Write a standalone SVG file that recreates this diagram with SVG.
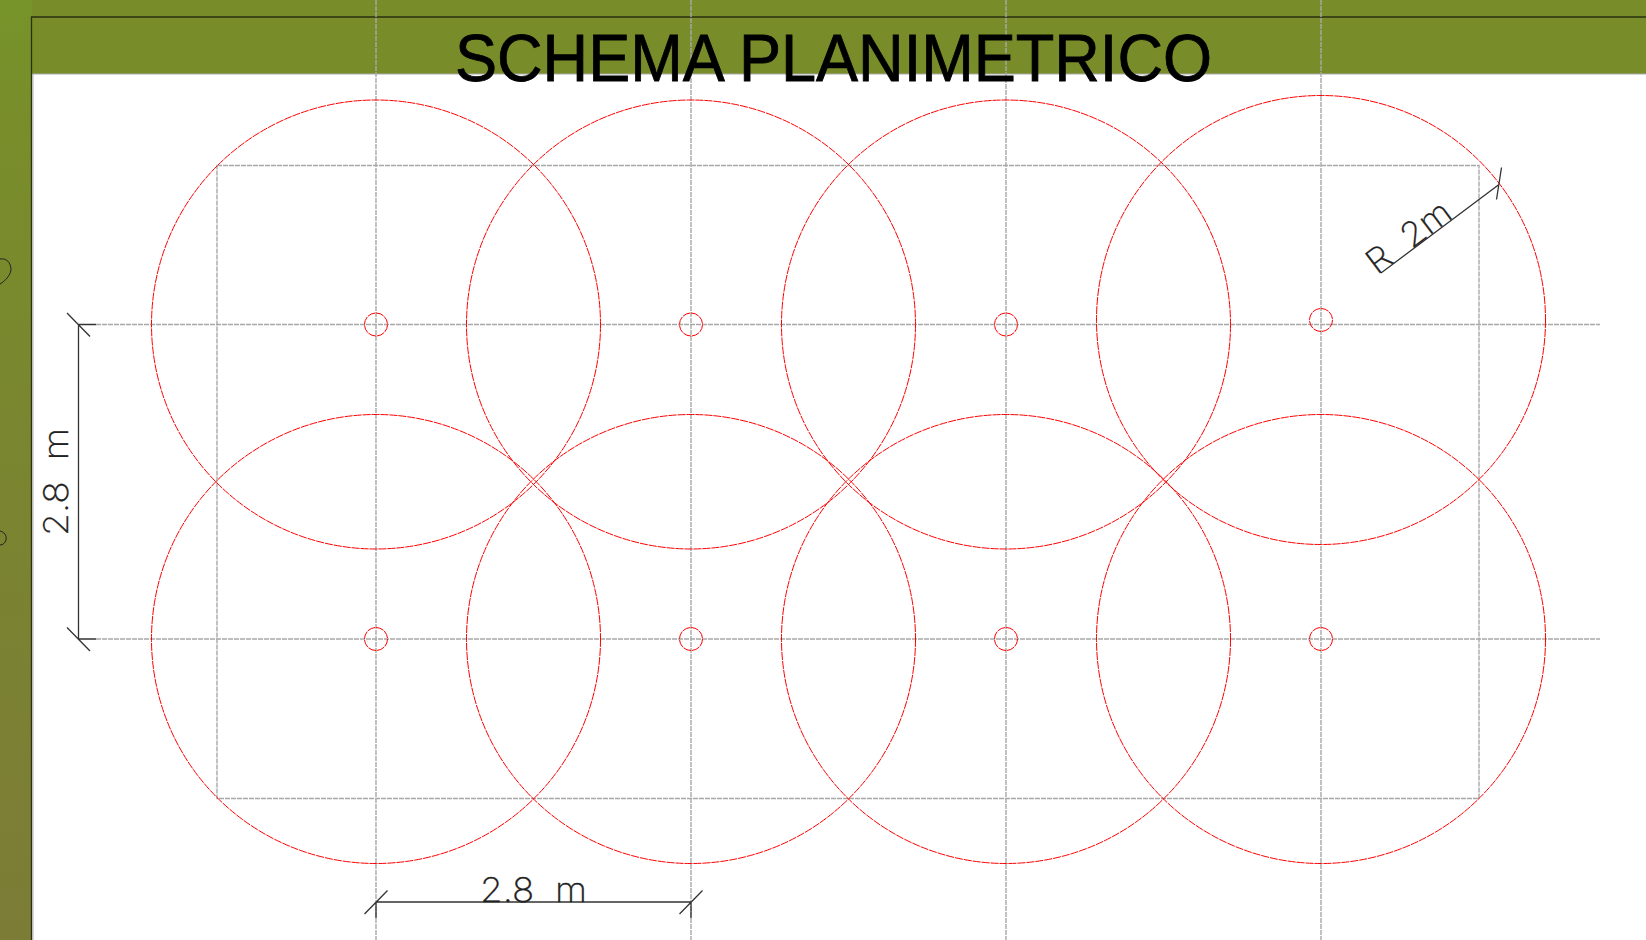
<svg xmlns="http://www.w3.org/2000/svg" width="1646" height="940" viewBox="0 0 1646 940">
<style>
.g{stroke:#a8a8a8;stroke-width:1.4;stroke-dasharray:5 1;fill:none}
.r{stroke:#f00;stroke-width:1;stroke-dasharray:8 1;fill:none}
.k{stroke:#333;stroke-width:1.3;fill:none}
.t{font-family:Inter,"Liberation Sans",sans-serif;font-weight:200;font-size:34px;fill:#222;stroke:#222;stroke-width:.3}
</style>
<defs>
<linearGradient id="bg" gradientUnits="userSpaceOnUse" x1="0" y1="0" x2="0" y2="940">
<stop offset="0" stop-color="#76942a"/><stop offset="0.1" stop-color="#788e2a"/><stop offset="0.5" stop-color="#7a8530"/><stop offset="1" stop-color="#7c7c36"/>
</linearGradient>
</defs>
<rect id="background" width="1646" height="940" fill="#788c2a"/>
<rect id="strip" width="32" height="940" fill="url(#bg)"/>
<rect id="sheet" x="32" y="74" width="1614" height="866" fill="#fff"/>
<path d="M33 74V940" stroke="#ccc" stroke-width="1.5"/>
<path d="M32 74H1646" stroke="#aaa" stroke-width="1"/>
<path id="frame" d="M31.500 940V17H1646" fill="none" stroke="#2a3010" stroke-width="1.3"/>
<path id="marks" d="M0 259C6 258 11 262 11 270C10 276 5 281 0 284M0 531C4 532 7 535 6 540C5 543 3 545 0 545" fill="none" stroke="#222" stroke-width="1"/>
<g id="grid" class="g">
<path d="M376 0V940M691 0V940M1006 0V940M1321 0V940M96 324.500H1600M96 639H1600"/>
<rect x="217" y="165.500" width="1262" height="633"/>
</g>
<g id="circles" class="r">
<circle cx="376" cy="324.500" r="224.500"/><circle cx="691" cy="324.500" r="224.500"/><circle cx="1006" cy="324.500" r="224.500"/><circle cx="1321" cy="320" r="224.500"/>
<circle cx="376" cy="639" r="224.500"/><circle cx="691" cy="639" r="224.500"/><circle cx="1006" cy="639" r="224.500"/><circle cx="1321" cy="639" r="224.500"/>
<circle cx="376" cy="324.500" r="11.500"/><circle cx="691" cy="324.500" r="11.500"/><circle cx="1006" cy="324.500" r="11.500"/><circle cx="1321" cy="320" r="11.500"/>
<circle cx="376" cy="639" r="11.500"/><circle cx="691" cy="639" r="11.500"/><circle cx="1006" cy="639" r="11.500"/><circle cx="1321" cy="639" r="11.500"/>
</g>
<g id="dimensions" class="k">
<path d="M78.500 324.500V639M78.500 324.500H96M78.500 639H96M67 313L90 336.500M67 627.500L90 651"/>
<path d="M376 902H691M376 902V918M691 902V918M387.500 890.500L364.500 914M702.500 890.500L679.500 914"/>
<path d="M1381 273L1499 184.500M1501.500 167.500L1496.500 199.500"/>
</g>
<g id="labels">
<text x="455" y="80.500" font-family="'Liberation Sans',sans-serif" font-size="66" fill="#000" stroke="#000" stroke-width=".8" textLength="757" lengthAdjust="spacingAndGlyphs">SCHEMA PLANIMETRICO</text>
<text class="t" x="480" y="901.500" textLength="107" lengthAdjust="spacingAndGlyphs" xml:space="preserve">2.8  m</text>
<text class="t" transform="translate(68 536) rotate(-90)" textLength="108" lengthAdjust="spacingAndGlyphs" xml:space="preserve">2.8  m</text>
<text class="t" transform="translate(1377 275.500) rotate(-37)" textLength="97" lengthAdjust="spacingAndGlyphs" xml:space="preserve">R  2m</text>
</g>
</svg>
